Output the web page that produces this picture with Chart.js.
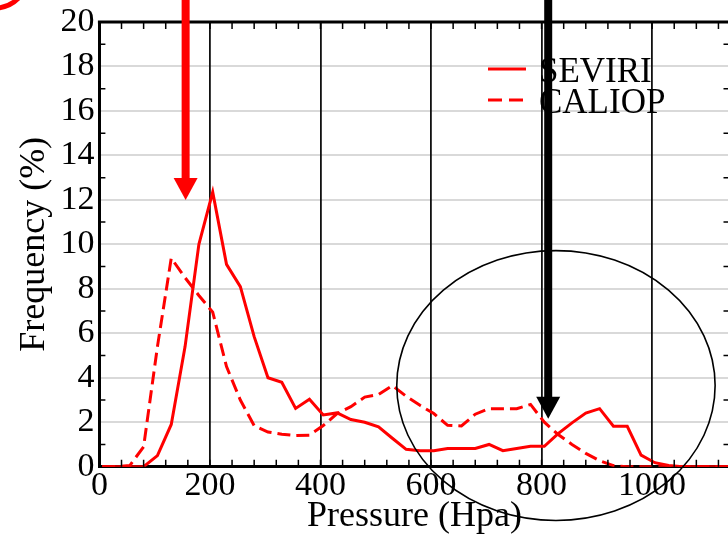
<!DOCTYPE html>
<html>
<head>
<meta charset="utf-8">
<script src="https://cdn.jsdelivr.net/npm/chart.js@4.4.1/dist/chart.umd.min.js"></script>
<style>
    body { margin: 0; overflow: hidden; background: #fff; }
    #wrap { width: 740px; height: 536px; }
</style>
</head>
<body>
<div id="wrap"><canvas id="myLineChartPressure" width="740" height="536"></canvas></div>
<script>
// Druckstufen (hPa) und Häufigkeiten (%) der beiden Instrumente.
const pressure = [5, 30, 55, 80, 105, 130, 155, 180, 205, 230, 255, 280, 305, 330, 355, 380, 405, 430, 455, 480,
    505, 530, 555, 580, 605, 630, 655, 680, 705, 730, 755, 780, 805, 830, 855, 880, 905, 930, 955, 980,
    1005, 1030, 1055, 1080, 1105, 1130, 1155];
const seviri = [0, 0, 0, 0, 0.5, 1.9, 5.4, 10.0, 12.35, 9.1, 8.1, 5.85, 4.0, 3.8, 2.62, 3.03, 2.33, 2.42, 2.12, 2.0,
    1.79, 1.28, 0.78, 0.72, 0.72, 0.82, 0.82, 0.82, 1.0, 0.72, 0.82, 0.92, 0.92, 1.49, 1.97, 2.41, 2.61, 1.82, 1.82, 0.52,
    0.18, 0.05, 0, 0, 0, 0, 0];
const caliop = [0, 0, 0.05, 0.9, 5.4, 9.38, 8.5, 7.7, 6.95, 4.5, 3.0, 1.85, 1.56, 1.46, 1.4, 1.42, 1.85, 2.39, 2.7, 3.13,
    3.25, 3.65, 3.17, 2.76, 2.39, 1.86, 1.83, 2.36, 2.61, 2.61, 2.61, 2.8, 2.0, 1.45, 1.0, 0.6, 0.27, 0.05, 0, 0,
    0, 0, 0, 0, 0, 0, 0];

// Achsen: Beschriftung alle 200 hPa bzw. 2 %, kleine Striche dazwischen.
const xMax = 1140;
const xMajorStep = 200;
const xMinorStep = 40;
const yMax = 20;
const yMajorStep = 2;
const yMinorStep = 1;

// Markierungen: Pfeile (Druck, Spitze in %) und Ellipse (Mitte und Radien in Achseneinheiten).
const arrowRed = {x: 156, tip: 12.0, color: '#ff0000'};
const arrowBlack = {x: 812, tip: 2.16, color: '#000000'};
const ellipse = {x: 826, y: 3.65, rx: 288, ry: 6.07};

const legendItems = [
    {label: 'SEVIRI', dash: []},
    {label: 'CALIOP', dash: [14, 7]}
];

const serif = '"Liberation Serif", "Times New Roman", serif';
Chart.defaults.font.family = serif;
Chart.defaults.color = '#000';

function toPoints(values) {
    return pressure.map((p, i) => ({x: p, y: values[i]}));
}

function drawArrow(ctx, px, tipY, color) {
    const shaft = 8, head = 24, headLen = 22;
    ctx.fillStyle = color;
    ctx.fillRect(px - shaft / 2, 0, shaft, tipY - headLen + 1);
    ctx.beginPath();
    ctx.moveTo(px - head / 2, tipY - headLen);
    ctx.lineTo(px + head / 2, tipY - headLen);
    ctx.lineTo(px, tipY);
    ctx.closePath();
    ctx.fill();
}

/*
Rahmen oben/rechts, Striche nach innen, Legende und Markierungen.
 */
const framePlugin = {
    id: 'frame',
    afterDatasetsDraw(chart) {
        const {ctx, chartArea} = chart;
        const xs = chart.scales.x, ys = chart.scales.y;
        const {left, right, top, bottom} = chartArea;
        ctx.save();

        ctx.strokeStyle = '#000';
        ctx.lineWidth = 3;
        ctx.beginPath();
        ctx.moveTo(left - 1.5, top);
        ctx.lineTo(right, top);
        ctx.lineTo(right, bottom);
        ctx.stroke();

        ctx.lineWidth = 1.5;
        ctx.beginPath();
        for (let v = 0; v <= xMax; v += xMinorStep) {
            const px = xs.getPixelForValue(v);
            ctx.moveTo(px, top);
            ctx.lineTo(px, top + 7);
            ctx.moveTo(px, bottom);
            ctx.lineTo(px, bottom - 7);
        }
        for (let v = yMinorStep; v < yMax; v += yMajorStep) {
            const py = ys.getPixelForValue(v);
            ctx.moveTo(left, py);
            ctx.lineTo(left + 6, py);
            ctx.moveTo(right, py);
            ctx.lineTo(right - 6, py);
        }
        ctx.stroke();

        // Legende
        ctx.font = '35px ' + serif;
        ctx.textBaseline = 'alphabetic';
        ctx.textAlign = 'left';
        legendItems.forEach((item, i) => {
            const ly = 69 + i * 31;
            ctx.strokeStyle = '#ff0000';
            ctx.lineWidth = 3;
            ctx.setLineDash(item.dash);
            ctx.beginPath();
            ctx.moveTo(488, ly);
            ctx.lineTo(526, ly);
            ctx.stroke();
            ctx.setLineDash([]);
            ctx.fillStyle = '#000';
            ctx.fillText(item.label, 539, ly + 12.5);
        });

        drawArrow(ctx, xs.getPixelForValue(arrowRed.x), ys.getPixelForValue(arrowRed.tip), arrowRed.color);
        drawArrow(ctx, xs.getPixelForValue(arrowBlack.x), ys.getPixelForValue(arrowBlack.tip), arrowBlack.color);

        const cx = xs.getPixelForValue(ellipse.x), cy = ys.getPixelForValue(ellipse.y);
        const rx = xs.getPixelForValue(ellipse.x + ellipse.rx) - cx;
        const ry = cy - ys.getPixelForValue(ellipse.y + ellipse.ry);
        ctx.strokeStyle = '#000';
        ctx.lineWidth = 1.6;
        ctx.beginPath();
        ctx.ellipse(cx, cy, rx, ry, 0, 0, Math.PI * 2);
        ctx.stroke();

        // Rest der Panel-Kennung oben links
        ctx.strokeStyle = '#ff0000';
        ctx.lineWidth = 5;
        ctx.beginPath();
        ctx.arc(-5, -25, 33, 0, Math.PI);
        ctx.stroke();

        ctx.restore();
    }
};

plotPressure();
/*
Zeichnet die Häufigkeitsverteilung über dem Druck.
 */
function plotPressure() {
    const ctx = document.getElementById('myLineChartPressure');
    new Chart(ctx, {
        type: 'line',
        data: {
            datasets: [{
                label: 'SEVIRI',
                data: toPoints(seviri),
                borderColor: '#ff0000',
                borderWidth: 3,
                pointRadius: 0,
                tension: 0,
                fill: false
            }, {
                label: 'CALIOP',
                data: toPoints(caliop),
                borderColor: '#ff0000',
                borderWidth: 3,
                borderDash: [13, 6],
                pointRadius: 0,
                tension: 0,
                fill: false
            }]
        },
        options: {
            responsive: false,
            animation: false,
            layout: {
                padding: {top: 19, right: 10.5, left: 0, bottom: 0}
            },
            plugins: {
                legend: {display: false},
                tooltip: {enabled: false}
            },
            scales: {
                y: {
                    type: 'linear',
                    min: 0,
                    max: yMax,
                    afterFit: (scale) => { scale.width = 99.4; },
                    ticks: {
                        stepSize: yMajorStep,
                        padding: 5,
                        font: {size: 34, lineHeight: 1},
                        color: '#000'
                    },
                    grid: {
                        color: (c) => c.tick && c.tick.value === 0 ? 'rgba(0,0,0,0)' : '#d9d9d9',
                        lineWidth: 2,
                        drawTicks: false
                    },
                    border: {color: '#000', width: 3},
                    title: {
                        display: true,
                        text: 'Frequency (%)',
                        font: {size: 36, lineHeight: 1.2},
                        color: '#000',
                        padding: {top: 13, bottom: 0}
                    }
                },
                x: {
                    type: 'linear',
                    min: 0,
                    max: xMax,
                    afterFit: (scale) => { scale.height = 69.3; },
                    ticks: {
                        stepSize: xMajorStep,
                        includeBounds: false,
                        padding: 2,
                        font: {size: 34, lineHeight: 1},
                        color: '#000',
                        maxRotation: 0,
                        autoSkip: false,
                        callback: (value) => String(value)
                    },
                    grid: {
                        color: '#111',
                        lineWidth: 1.8,
                        drawTicks: false
                    },
                    border: {color: '#000', width: 3},
                    title: {
                        display: true,
                        text: 'Pressure (Hpa)',
                        font: {size: 36, lineHeight: 1},
                        color: '#000',
                        padding: {top: 0, bottom: 1}
                    }
                }
            }
        },
        plugins: [framePlugin]
    });
}
</script>
</body>
</html>
